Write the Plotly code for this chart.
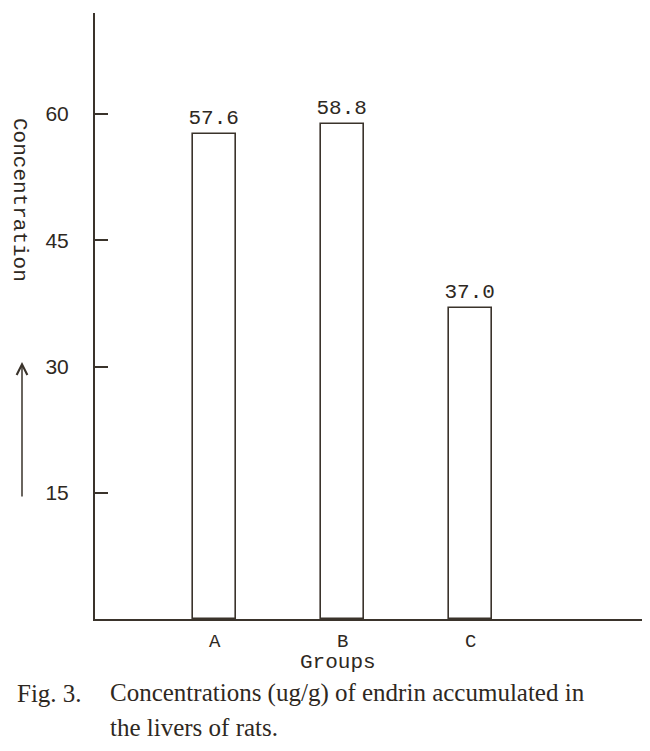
import plotly.graph_objects as go

# values (ug/g endrin in rat liver)
groups = ["A", "B", "C"]
concentration = [57.6, 58.8, 37.0]
bar_labels = ["57.6", "58.8", "37.0"]
y_ticks = [15, 30, 45, 60]

ink = "#3a332b"
text_ink = "#2e2822"
mono = "Liberation Mono"
serif = "Liberation Serif"

# the page has an 8px body margin, so the figure is 8px smaller than the window
W, H = 642, 743


def px(x):
    # page pixel x -> paper coordinate (plot spans page x 95..650)
    return (x - 95) / 555.0


def py(y):
    # page pixel y -> paper coordinate (plot spans page y 13..619)
    return (619 - y) / 606.0


fig = go.Figure(go.Bar(
    x=groups,
    y=concentration,
    width=0.335,
    text=bar_labels,
    textposition="outside",
    constraintext="none",
    textfont=dict(family=mono, size=21, color=text_ink),
    cliponaxis=False,
    marker=dict(color="white", line=dict(color=ink, width=1.6)),
))

fig.update_layout(
    width=W, height=H,
    margin=dict(l=87, r=0, t=5, b=132),
    paper_bgcolor="white", plot_bgcolor="white",
    showlegend=False,
    bargap=0,
)

fig.update_xaxes(
    range=[-0.934, 3.40],
    showline=True, linecolor=ink, linewidth=2,
    ticks="", showgrid=False, zeroline=False,
    tickfont=dict(family=mono, size=19, color=text_ink),
    ticklabelstandoff=3,
)
fig.update_yaxes(
    range=[0, 72],
    tickvals=y_ticks,
    showline=True, linecolor=ink, linewidth=2,
    ticks="inside", ticklen=13, tickwidth=2, tickcolor=ink,
    showgrid=False, zeroline=False,
    tickfont=dict(family="Liberation Sans", size=21, color=text_ink),
    ticklabelstandoff=20,
)

notes = [
    dict(text="Concentration", x=px(20), y=py(200), textangle=90, xanchor="center",
         font=dict(family=mono, size=21, color=text_ink)),
    dict(text="Groups", x=px(338), y=py(662), xanchor="center",
         font=dict(family=mono, size=21, color=text_ink)),
    dict(text="Fig. 3.", x=px(15), y=py(693), xanchor="left",
         font=dict(family=serif, size=25, color=text_ink)),
    dict(text="Concentrations (ug/g) of endrin accumulated in", x=px(108), y=py(693),
         xanchor="left", font=dict(family=serif, size=25, color=text_ink)),
    dict(text="the livers of rats.", x=px(108), y=py(727), xanchor="left",
         font=dict(family=serif, size=25, color=text_ink)),
]
for n in notes:
    fig.add_annotation(xref="paper", yref="paper", showarrow=False, yanchor="middle", **n)

# upward arrow beside the axis title
fig.add_annotation(
    xref="paper", yref="paper", x=px(22), y=py(362), ax=0, ay=136,
    text="", showarrow=True, arrowhead=5, arrowsize=1.4, arrowwidth=1.5,
    arrowcolor=ink,
)

fig.write_html("out.html")
